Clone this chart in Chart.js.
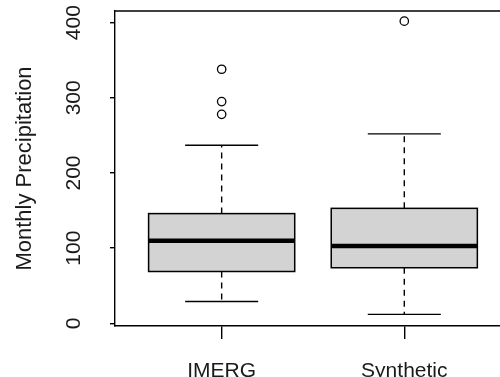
<!DOCTYPE html>
<html lang="en">
<head>
  <meta charset="UTF-8">
  <title>Monthly Precipitation boxplot</title>
  <script src="https://cdn.jsdelivr.net/npm/chart.js"></script>
  <style>
    body { margin: 0; background: #fff; overflow: hidden; }
  </style>
</head>
<body>
  <canvas id="box" width="500" height="377"></canvas>
  <script>
    // boxplot stats
    const categories = ['IMERG', 'Synthetic']
    const whiskerLow = [29, 12]
    const q1 = [69, 74]
    const median = [110, 103]
    const q3 = [146, 153]
    const whiskerHigh = [237, 252]
    const outliersIMERG = [338, 295, 278]
    const outliersSynthetic = [402]
    const yTicks = [0, 100, 200, 300, 400]

    const font = 'Liberation Sans, Arial, sans-serif'
    const textColor = '#1a1a1a'

    let outlierPts = []
    outliersIMERG.forEach(v => outlierPts.push({ x: 1, y: v }))
    outliersSynthetic.forEach(v => outlierPts.push({ x: 2, y: v }))

    const boxPlugin = {
      id: 'boxes',
      beforeDatasetsDraw(chart) {
        const ctx = chart.ctx, xs = chart.scales.x, ys = chart.scales.y
        const area = chart.chartArea
        ctx.save()
        categories.forEach((c, i) => {
          let cx = xs.getPixelForValue(i + 1)
          let halfBox = xs.getPixelForValue(i + 1.4) - cx
          let halfCap = xs.getPixelForValue(i + 1.2) - cx
          let yLo = ys.getPixelForValue(whiskerLow[i]),
            yQ1 = ys.getPixelForValue(q1[i]),
            yMed = ys.getPixelForValue(median[i]),
            yQ3 = ys.getPixelForValue(q3[i]),
            yHi = ys.getPixelForValue(whiskerHigh[i])

          // whiskers (dashed)
          ctx.strokeStyle = '#000'
          ctx.lineWidth = 1.4
          ctx.setLineDash([6, 5])
          ctx.beginPath()
          ctx.moveTo(cx, yQ3); ctx.lineTo(cx, yHi)
          ctx.moveTo(cx, yQ1); ctx.lineTo(cx, yLo)
          ctx.stroke()
          ctx.setLineDash([])
          // caps
          ctx.beginPath()
          ctx.moveTo(cx - halfCap, yHi); ctx.lineTo(cx + halfCap, yHi)
          ctx.moveTo(cx - halfCap, yLo); ctx.lineTo(cx + halfCap, yLo)
          ctx.stroke()
          // box
          ctx.fillStyle = '#d3d3d3'
          ctx.fillRect(cx - halfBox, yQ3, 2 * halfBox, yQ1 - yQ3)
          ctx.lineWidth = 1.5
          ctx.strokeRect(cx - halfBox, yQ3, 2 * halfBox, yQ1 - yQ3)
          // median
          ctx.lineWidth = 4.5
          ctx.beginPath()
          ctx.moveTo(cx - halfBox, yMed); ctx.lineTo(cx + halfBox, yMed)
          ctx.stroke()
        })
        // top of frame
        ctx.lineWidth = 1.4
        ctx.beginPath()
        ctx.moveTo(area.left, area.top); ctx.lineTo(area.right, area.top)
        ctx.stroke()
        // y tick labels, rotated like R
        ctx.fillStyle = textColor
        ctx.font = '21px ' + font
        ctx.textAlign = 'center'
        ctx.textBaseline = 'middle'
        yTicks.forEach(v => {
          ctx.save()
          ctx.translate(74, ys.getPixelForValue(v))
          ctx.rotate(-Math.PI / 2)
          ctx.fillText(String(v), 0, 0)
          ctx.restore()
        })
        ctx.restore()
      }
    }

    new Chart(document.getElementById('box'), {
      type: 'scatter',
      data: {
        datasets: [{
          label: 'outliers',
          data: outlierPts,
          pointStyle: 'circle',
          pointRadius: 4.2,
          pointBorderWidth: 1.3,
          pointBorderColor: '#000',
          pointBackgroundColor: 'rgba(0,0,0,0)'
        }]
      },
      options: {
        responsive: false,
        animation: false,
        layout: { autoPadding: false, padding: { top: 11, right: 0, left: 0, bottom: 0 } },
        plugins: {
          legend: { display: false },
          tooltip: { enabled: false }
        },
        scales: {
          x: {
            type: 'linear',
            min: 0.416,
            max: 2.524,
            afterFit: s => { s.height = 51 },
            afterBuildTicks: s => { s.ticks = [{ value: 1 }, { value: 2 }] },
            ticks: {
              callback: v => categories[v - 1],
              font: { size: 21, family: font },
              color: textColor,
              padding: 20,
              maxRotation: 0
            },
            grid: { drawOnChartArea: false, tickLength: 13, color: '#000', lineWidth: 1.4 },
            border: { color: '#000', width: 1.4 }
          },
          y: {
            min: -3.5,
            max: 415.5,
            afterFit: s => { s.width = 115 },
            afterBuildTicks: s => { s.ticks = yTicks.map(v => ({ value: v })) },
            ticks: { display: false },
            grid: { drawOnChartArea: false, tickLength: 5, color: '#000', lineWidth: 1.4 },
            border: { color: '#000', width: 1.4 },
            title: {
              display: true,
              text: 'Monthly Precipitation',
              font: { size: 22, family: font },
              color: textColor,
              padding: { top: 12, bottom: 0 }
            }
          }
        }
      },
      plugins: [boxPlugin]
    })
  </script>
</body>
</html>
